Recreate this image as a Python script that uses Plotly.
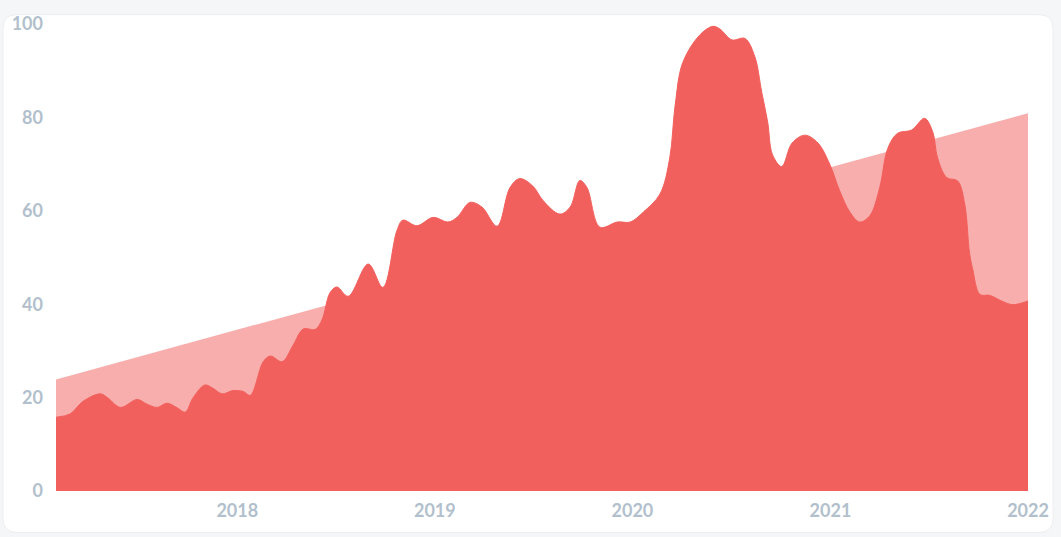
import plotly.graph_objects as go

# ---- data ----
dates = [
    "2017-01-31", "2017-02-26", "2017-03-22", "2017-04-23", "2017-05-07", "2017-05-30",
    "2017-06-30", "2017-07-18", "2017-08-06", "2017-08-24", "2017-09-12", "2017-09-27",
    "2017-10-11", "2017-11-02", "2017-11-17", "2017-12-04", "2017-12-24", "2018-01-12",
    "2018-01-25", "2018-02-18", "2018-03-03", "2018-03-25", "2018-04-14", "2018-05-03",
    "2018-05-25", "2018-06-07", "2018-06-21", "2018-07-04", "2018-07-25", "2018-08-31",
    "2018-09-27", "2018-10-23", "2018-11-03", "2018-11-29", "2018-12-29", "2019-01-25",
    "2019-02-11", "2019-03-07", "2019-03-29", "2019-04-26", "2019-05-20", "2019-06-07",
    "2019-07-01", "2019-07-20", "2019-08-20", "2019-09-08", "2019-09-26", "2019-10-09",
    "2019-11-02", "2019-12-04", "2019-12-28", "2020-01-21", "2020-02-21", "2020-03-10",
    "2020-03-20", "2020-04-03", "2020-05-05", "2020-05-29", "2020-06-11", "2020-07-03",
    "2020-07-27", "2020-08-14", "2020-08-27", "2020-09-07", "2020-09-16", "2020-10-03",
    "2020-10-22", "2020-11-15", "2020-12-09", "2020-12-31", "2021-01-18", "2021-02-06",
    "2021-02-24", "2021-03-15", "2021-04-02", "2021-04-17", "2021-05-05", "2021-05-31",
    "2021-06-24", "2021-07-09", "2021-07-18", "2021-08-04", "2021-08-24", "2021-09-06",
    "2021-09-15", "2021-09-21", "2021-10-04", "2021-10-22", "2021-11-13", "2021-12-04",
    "2022-01-01",
]
interest = [
    15.8, 16.5, 19.2, 20.8, 19.9, 17.9,
    19.6, 18.6, 17.9, 18.8, 17.8, 16.9,
    19.9, 22.7, 22.0, 20.8, 21.5, 21.3,
    20.5, 27.7, 28.9, 27.7, 31.2, 34.7,
    34.6, 36.8, 42.4, 43.7, 41.7, 48.6,
    43.6, 55.8, 58.0, 56.8, 58.6, 57.6,
    58.6, 61.8, 60.8, 56.7, 65.0, 66.9,
    65.3, 62.2, 59.3, 60.8, 66.5, 65.0,
    56.5, 57.6, 57.6, 59.7, 63.6, 71.3,
    82.6, 91.7, 97.7, 99.5, 98.9, 96.6,
    96.9, 93.1, 85.4, 79.0, 72.0, 69.5,
    74.5, 76.2, 74.5, 69.9, 64.3, 59.7,
    57.6, 59.0, 65.0, 73.4, 76.6, 77.3,
    79.8, 76.9, 71.3, 67.1, 66.4, 61.5,
    50.9, 47.4, 42.1, 41.9, 40.7, 39.9,
    40.7,
]
trend_dates = ["2017-01-31", "2022-01-01"]
trend_values = [23.9, 80.9]

year_ticks = ["2018-01-01", "2019-01-01", "2020-01-01", "2021-01-01", "2022-01-01"]
year_labels = ["2018", "2019", "2020", "2021", "2022"]
y_ticks = [0, 20, 40, 60, 80, 100]

MAIN = "#f2605d"
LIGHT = "#f7aeac"
TICK = "#b2bfcc"

fig = go.Figure()
fig.add_trace(go.Scatter(
    x=trend_dates, y=trend_values, mode="lines", fill="tozeroy",
    line=dict(color=LIGHT, width=0), fillcolor=LIGHT, hoverinfo="skip",
))
fig.add_trace(go.Scatter(
    x=dates, y=interest, mode="lines", fill="tozeroy",
    line=dict(color=MAIN, width=1, shape="spline", smoothing=1.0), fillcolor=MAIN,
))

# white rounded card behind everything
W, H = 1061, 537
ml, mr, mt, mb = 56, 33, 17.5, 46
pw, ph = W - ml - mr, H - mt - mb
x0, x1, y0, y1, r = 3, 1053, 8, 533, 14
def px(x):
    return (x - ml) / pw
def py(y):
    return 1 - (y - mt) / ph
path = (
    f"M {px(x0 + r)},{py(y0)} L {px(x1 - r)},{py(y0)} "
    f"Q {px(x1)},{py(y0)} {px(x1)},{py(y0 + r)} "
    f"L {px(x1)},{py(y1 - r)} Q {px(x1)},{py(y1)} {px(x1 - r)},{py(y1)} "
    f"L {px(x0 + r)},{py(y1)} Q {px(x0)},{py(y1)} {px(x0)},{py(y1 - r)} "
    f"L {px(x0)},{py(y0 + r)} Q {px(x0)},{py(y0)} {px(x0 + r)},{py(y0)} Z"
)
fig.add_shape(type="path", path=path, xref="paper", yref="paper",
              fillcolor="white", line=dict(color="#eceef1", width=1), layer="below")

font = dict(family="Lato, 'Open Sans', sans-serif", size=18, color=TICK, weight="bold")
fig.update_layout(
    width=W, height=H,
    margin=dict(l=ml, r=mr, t=mt, b=mb),
    paper_bgcolor="#f5f6f8",
    plot_bgcolor="rgba(0,0,0,0)",
    showlegend=False,
    xaxis=dict(
        range=["2017-01-31", "2022-01-01"], tickvals=year_ticks, ticktext=year_labels,
        showgrid=False, zeroline=False, showline=False, ticks="", tickfont=font,
        ticklabelstandoff=7,
    ),
    yaxis=dict(
        range=[0, 100], tickvals=y_ticks, showgrid=False, zeroline=False,
        showline=False, ticks="", tickfont=font, ticklabelstandoff=12,
    ),
)

fig.write_html("out.html", config={"displayModeBar": False},
               post_script="document.body.style.margin='0';document.body.style.overflow='hidden';")
